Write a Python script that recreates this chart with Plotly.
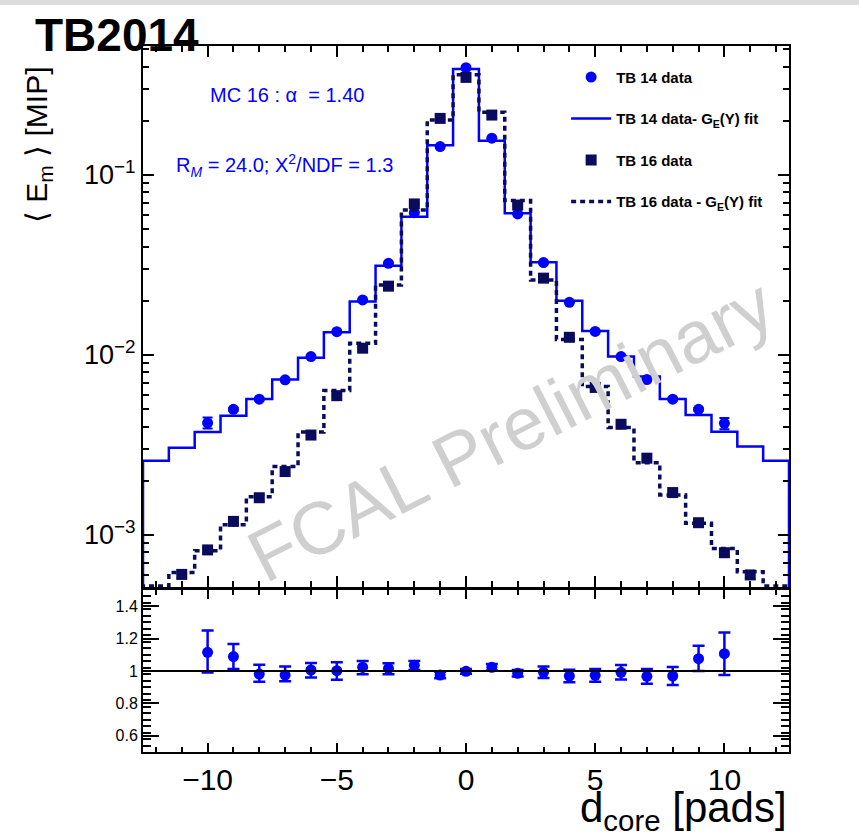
import plotly.graph_objects as go

# ---------------- data ----------------
bins = list(range(-12, 13))
tb14_fit = [2.58e-3, 3.05e-3, 3.73e-3, 4.60e-3, 5.70e-3, 7.30e-3, 9.66e-3, 0.01336, 0.0198,
            0.0313, 0.0586, 0.146, 0.388, 0.155, 0.0612, 0.0327, 0.0200, 0.0136, 9.8e-3,
            7.58e-3, 5.70e-3, 4.64e-3, 3.75e-3, 3.10e-3, 2.58e-3]
tb16_fit = [5.2e-4, 6.18e-4, 8.18e-4, 1.14e-3, 1.63e-3, 2.40e-3, 3.73e-3, 6.34e-3, 0.0116,
            0.0245, 0.0639, 0.202, 0.360, 0.223, 0.072, 0.0261, 0.0122, 6.67e-3, 3.95e-3,
            2.52e-3, 1.67e-3, 1.16e-3, 8.4e-4, 6.25e-4, 5.2e-4]

tb14_x = list(range(-10, 11))
tb14_y = [4.2e-3, 4.99e-3, 5.68e-3, 7.27e-3, 9.8e-3, 0.01346, 0.0202, 0.0323, 0.0617, 0.1436,
          0.394, 0.160, 0.0607, 0.0326, 0.0196, 0.0135, 9.8e-3, 7.3e-3, 5.68e-3, 4.99e-3, 4.17e-3]
tb14_err = [3.0e-4, 1e-4, 1e-4, 1e-4, 1e-4, 1e-4, 2e-4, 3e-4, 5e-4, 1e-3,
            2e-3, 1e-3, 5e-4, 3e-4, 2e-4, 1e-4, 1e-4, 1e-4, 1e-4, 1e-4, 3.0e-4]

tb16_x = list(range(-11, 12))
tb16_y = [6.04e-4, 8.26e-4, 1.19e-3, 1.61e-3, 2.25e-3, 3.59e-3, 5.94e-3, 0.0109, 0.0241, 0.069,
          0.206, 0.348, 0.215, 0.068, 0.0267, 0.01253, 6.6e-3, 4.12e-3, 2.67e-3, 1.72e-3,
          1.17e-3, 7.97e-4, 6.0e-4]
tb16_err = [3e-5, 3e-5, 4e-5, 5e-5, 1.0e-4, 1e-4, 1e-4, 2e-4, 3e-4, 8e-4,
            2e-3, 3e-3, 2e-3, 8e-4, 3e-4, 2e-4, 1e-4, 1e-4, 1.0e-4, 5e-5,
            5e-5, 3e-5, 3e-5]

ratio_x = list(range(-10, 11))
ratio_y = [1.115, 1.089, 0.981, 0.975, 1.006, 1.002, 1.023, 1.016, 1.035, 0.975, 0.998,
           1.023, 0.986, 0.992, 0.969, 0.973, 0.992, 0.967, 0.969, 1.076, 1.107]
ratio_err_up = [0.135, 0.078, 0.058, 0.052, 0.044, 0.052, 0.039, 0.031, 0.027, 0.02, 0.015,
                0.02, 0.02, 0.035, 0.038, 0.039, 0.045, 0.046, 0.055, 0.079, 0.13]
ratio_err_dn = [0.125, 0.077, 0.047, 0.039, 0.046, 0.056, 0.043, 0.036, 0.029, 0.02, 0.015,
                0.02, 0.02, 0.035, 0.038, 0.039, 0.045, 0.046, 0.055, 0.076, 0.132]

y_ticks = [1e-3, 1e-2, 1e-1]
y_ticktext = ["10<sup>\u22123</sup>", "10<sup>\u22122</sup>", "10<sup>\u22121</sup>"]

# ---------------- styles ----------------
BLUE = "#0000ff"
NAVY = "#0b0b5e"
FONT = "Liberation Sans"

# step outlines built from bin centres
edges = [b - 0.5 for b in bins] + [bins[-1] + 0.5]


def step(vals):
    xs = [edges[0]] + edges + [edges[-1]]
    ys = [1e-6] + list(vals) + [vals[-1], 1e-6]
    return xs, ys


fig = go.Figure()

sx, sy = step(tb14_fit)
fig.add_trace(go.Scatter(x=tb14_x, y=tb14_y, mode="markers", name="<b>TB 14 data</b>",
                         legendgroup="a", xaxis="x", yaxis="y",
                         marker=dict(symbol="circle", size=11, color=BLUE),
                         error_y=dict(type="data", array=tb14_err, color=BLUE, thickness=2, width=5)))
fig.add_trace(go.Scatter(x=sx, y=sy, mode="lines", line_shape="hv", name="<b>TB 14 data- G<sub>E</sub>(Y) fit</b>",
                         legendgroup="b", xaxis="x", yaxis="y",
                         line=dict(color=BLUE, width=2.5)))
sx2, sy2 = step(tb16_fit)
fig.add_trace(go.Scatter(x=tb16_x, y=tb16_y, mode="markers", name="<b>TB 16 data</b>",
                         legendgroup="c", xaxis="x", yaxis="y",
                         marker=dict(symbol="square", size=11, color=NAVY),
                         error_y=dict(type="data", array=tb16_err, color=NAVY, thickness=2, width=5)))
fig.add_trace(go.Scatter(x=sx2, y=sy2, mode="lines", line_shape="hv", name="<b>TB 16 data - G<sub>E</sub>(Y) fit</b>",
                         legendgroup="d", xaxis="x", yaxis="y",
                         line=dict(color=NAVY, width=3.5, dash="5px,4px")))

fig.add_trace(go.Scatter(x=ratio_x, y=ratio_y, mode="markers", showlegend=False,
                         xaxis="x2", yaxis="y2",
                         marker=dict(symbol="circle", size=11, color=BLUE),
                         error_y=dict(type="data", symmetric=False, array=ratio_err_up,
                                      arrayminus=ratio_err_dn, color=BLUE, thickness=2.5, width=6)))

minor_log = [k * 10 ** d for d in (-4, -3, -2, -1) for k in range(2, 10)]

axis_common = dict(showline=True, linecolor="black", linewidth=2, mirror="ticks",
                   ticks="inside", tickcolor="black", tickwidth=2, zeroline=False,
                   showgrid=False)

fig.update_layout(
    width=859, height=836,
    margin=dict(l=143, r=70, t=46, b=84),
    paper_bgcolor="white", plot_bgcolor="white",
    font=dict(family=FONT, color="black"),
    xaxis=dict(**axis_common, domain=[0, 1], anchor="y", range=[-12.5, 12.5],
               tickvals=[-10, -5, 0, 5, 10], ticklen=11, showticklabels=False,
               minor=dict(ticks="inside", dtick=1, ticklen=6, tickcolor="black", tickwidth=2)),
    yaxis=dict(**axis_common, domain=[0.2337, 1], anchor="x", type="log",
               range=[-3.289, -0.284], tickvals=y_ticks, ticktext=y_ticktext, ticklen=11,
               tickfont=dict(size=27, family=FONT, color="black"),
               minor=dict(ticks="inside", tickmode="array", tickvals=minor_log, ticklen=6,
                          tickcolor="black", tickwidth=2)),
    xaxis2=dict(**axis_common, domain=[0, 1], anchor="y2", range=[-12.5, 12.5],
                tickvals=[-10, -5, 0, 5, 10], ticklen=9,
                tickfont=dict(size=30, family=FONT, color="black"),
                minor=dict(ticks="inside", dtick=1, ticklen=5, tickcolor="black", tickwidth=2)),
    yaxis2=dict(**axis_common, domain=[0, 0.2295], anchor="x2", range=[0.5, 1.5],
                tickvals=[0.6, 0.8, 1.0, 1.2, 1.4], ticktext=["0.6", "0.8", "1", "1.2", "1.4"],
                ticklen=16, tickfont=dict(size=16, family=FONT, color="black"),
                minor=dict(ticks="inside", dtick=0.04, tick0=0.5, ticklen=8,
                           tickcolor="black", tickwidth=2)),
    legend=dict(x=0.655, y=0.979, xanchor="left", yanchor="top", bgcolor="rgba(0,0,0,0)",
                font=dict(family=FONT, size=15, color="black"), tracegroupgap=19,
                itemwidth=40, traceorder="grouped"),
    shapes=[
        dict(type="line", xref="x2", yref="y2", x0=-12.5, x1=12.5, y0=1, y1=1,
             line=dict(color="black", width=2)),
        dict(type="rect", xref="paper", yref="paper", x0=-0.222, x1=1.11,
             y0=(752 - 0) / 706, y1=(752 - 5) / 706, line=dict(width=0), fillcolor="#dcdcdc"),
    ],
    annotations=[
        dict(text="<b>TB2014</b>", xref="paper", yref="paper", x=(33 - 143) / 646, y=(752 - 35) / 706,
             xanchor="left", yanchor="middle", showarrow=False,
             font=dict(family=FONT, size=46, color="black")),
        dict(text="MC 16 : \u03b1  = 1.40", xref="paper", yref="paper", x=(287 - 143) / 646,
             y=(752 - 95) / 706, xanchor="center", yanchor="middle", showarrow=False,
             font=dict(family=FONT, size=20, color=BLUE)),
        dict(text="R<sub><i>M</i></sub> = 24.0; X<sup>2</sup>/NDF = 1.3", xref="paper", yref="paper",
             x=(284 - 143) / 646, y=(752 - 165) / 706, xanchor="center", yanchor="middle",
             showarrow=False, font=dict(family=FONT, size=20, color=BLUE)),
        dict(text="FCAL Preliminary", xref="paper", yref="paper", x=(510 - 143) / 646,
             y=(752 - 430) / 706, xanchor="center", yanchor="middle", textangle=-27,
             showarrow=False, font=dict(family=FONT, size=74, color="#cfcfcf")),
        dict(text="\u27e8 E<sub>m</sub> \u27e9 [MIP]", xref="paper", yref="paper",
             x=(38 - 143) / 646, y=(752 - 145) / 706, xanchor="center", yanchor="middle",
             textangle=-90, showarrow=False, font=dict(family=FONT, size=30, color="black")),
        dict(text="d<sub>core</sub> [pads]", xref="paper", yref="paper", x=1.0,
             y=(752 - 810) / 706, xanchor="right", yanchor="middle", showarrow=False,
             font=dict(family=FONT, size=42, color="black")),
    ],
)

fig.write_html("out.html")
